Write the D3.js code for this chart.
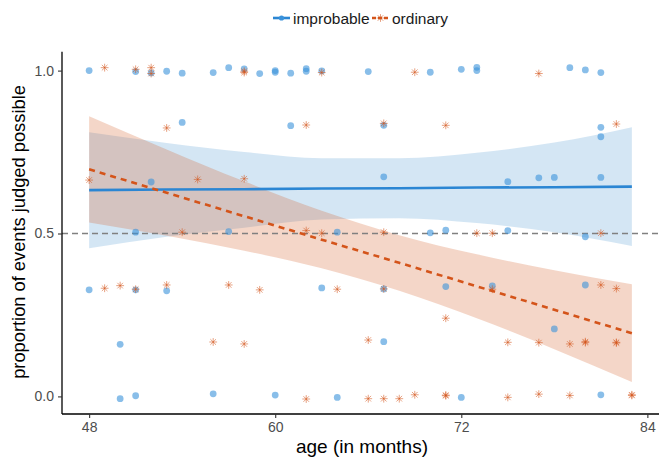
<!DOCTYPE html>
<html>
<head>
<meta charset="utf-8">
<script src="https://cdn.jsdelivr.net/npm/d3@7"></script>
<style>
  body { margin: 0; background: #fff; }
  text { font-family: "Liberation Sans", Arial, sans-serif; }
</style>
</head>
<body>
<div id="container"></div>
<script>
// improbable (blue circles)
const impMonths = [48, 51, 52, 53, 54, 56, 57, 58, 59, 60, 60, 61, 62, 62, 63, 66, 70, 72, 73, 73, 79, 80, 81,
  54, 61, 67, 81, 81,
  52, 67, 75, 77, 78, 81,
  51, 57, 64, 70, 71, 75, 80,
  48, 51, 53, 63, 67, 71, 74, 80,
  50, 67, 78,
  50, 51, 56, 60, 64, 72, 81];
const impValues = [1.0, 0.997, 0.993, 0.998, 0.992, 0.994, 1.009, 1.005, 0.991, 1.0, 0.995, 0.992, 1.006, 0.998, 0.999, 0.997, 0.995, 1.004, 1.01, 1.0, 1.009, 1.002, 0.994,
  0.841, 0.831, 0.832, 0.826, 0.797,
  0.658, 0.674, 0.659, 0.671, 0.672, 0.672,
  0.504, 0.506, 0.504, 0.502, 0.51, 0.509, 0.49,
  0.327, 0.327, 0.324, 0.333, 0.33, 0.337, 0.339, 0.342,
  0.16, 0.168, 0.207,
  -0.007, 0.002, 0.008, 0.004, -0.003, -0.003, 0.005];

// ordinary (orange asterisks)
const ordMonths = [49, 51, 52, 52, 58, 58, 63, 69, 77,
  53, 62, 67, 71, 82,
  48, 55, 58,
  54, 62, 63, 67, 73, 74, 81,
  49, 50, 51, 53, 57, 59, 64, 67, 74, 81, 82,
  71,
  56, 58, 66, 75, 77, 79, 80, 80, 82, 82,
  62, 66, 67, 68, 69, 71, 71, 75, 77, 79, 83, 83];
const ordValues = [1.009, 1.004, 1.009, 0.991, 0.998, 0.994, 0.994, 0.995, 0.991,
  0.824, 0.833, 0.838, 0.832, 0.836,
  0.664, 0.666, 0.668,
  0.504, 0.509, 0.501, 0.504, 0.501, 0.501, 0.501,
  0.332, 0.34, 0.329, 0.342, 0.342, 0.327, 0.329, 0.33, 0.329, 0.342, 0.331,
  0.24,
  0.167, 0.161, 0.173, 0.166, 0.165, 0.161, 0.165, 0.168, 0.166, 0.164,
  -0.008, -0.007, -0.007, -0.007, 0.005, 0.004, 0.002, -0.003, 0.007, 0.003, 0.005, 0.003];

// fitted lines and 95% bands
const fitMonths = [48, 53, 58, 63, 68, 73, 78, 83];
const impFit   = [0.633, 0.635, 0.636, 0.638, 0.639, 0.641, 0.642, 0.644];
const impUpper = [0.811, 0.778, 0.750, 0.731, 0.731, 0.748, 0.779, 0.826];
const impLower = [0.455, 0.490, 0.518, 0.543, 0.547, 0.532, 0.504, 0.462];
const ordFit   = [0.697, 0.625, 0.553, 0.481, 0.410, 0.338, 0.266, 0.194];
const ordUpper = [0.860, 0.758, 0.660, 0.570, 0.495, 0.436, 0.387, 0.344];
const ordLower = [0.534, 0.493, 0.447, 0.393, 0.324, 0.240, 0.145, 0.044];

const xTicks = [48, 60, 72, 84];
const yTicks = [0, 0.5, 1];
const seriesNames = ["improbable", "ordinary"];

const width = 664, height = 459;
const blue = "#2b86d3", orange = "#d4541a";
const blueFill = "#539bd3", orangeFill = "#d35b23";

const svg = d3.select("#container").append("svg")
  .attr("width", width).attr("height", height);

const x = d3.scaleLinear().domain([46.25, 84.75]).range([62, 659]);
const y = d3.scaleLinear().domain([-0.054, 1.058]).range([414, 51.7]);

// bands
function band(lower, upper) {
  return d3.area()
    .x((d, i) => x(fitMonths[i]))
    .y0((d, i) => y(lower[i]))
    .y1((d, i) => y(upper[i]))
    .curve(d3.curveMonotoneX)(fitMonths);
}
svg.append("path").attr("d", band(impLower, impUpper))
  .attr("fill", blueFill).attr("fill-opacity", 0.25);
svg.append("path").attr("d", band(ordLower, ordUpper))
  .attr("fill", orangeFill).attr("fill-opacity", 0.25);

// reference line at 0.5
svg.append("line")
  .attr("x1", 62).attr("x2", 659)
  .attr("y1", y(0.5)).attr("y2", y(0.5))
  .attr("stroke", "#808080").attr("stroke-width", 1.6)
  .attr("stroke-dasharray", "6,4");

// points
const impPts = impMonths.map((m, i) => ({ m: m, v: impValues[i] }));
const ordPts = ordMonths.map((m, i) => ({ m: m, v: ordValues[i] }));

svg.append("g").selectAll("circle")
  .data(impPts)
  .enter().append("circle")
  .attr("cx", d => x(d.m))
  .attr("cy", d => y(d.v))
  .attr("r", 3.4)
  .attr("fill", "#3a92db")
  .attr("fill-opacity", 0.6);

const star = "M-3.9,0H3.9M0,-3.9V3.9M-2.8,-2.8L2.8,2.8M-2.8,2.8L2.8,-2.8";
svg.append("g").selectAll("path")
  .data(ordPts)
  .enter().append("path")
  .attr("transform", d => "translate(" + x(d.m) + "," + y(d.v) + ")")
  .attr("d", star)
  .attr("fill", "none")
  .attr("stroke", orange)
  .attr("stroke-opacity", 0.55)
  .attr("stroke-width", 1);

// fit lines
const fitLine = vals => d3.line()
  .x((d, i) => x(fitMonths[i]))
  .y((d, i) => y(vals[i]))(fitMonths);

svg.append("path").attr("d", fitLine(impFit))
  .attr("fill", "none").attr("stroke", blue).attr("stroke-width", 2.6);
svg.append("path").attr("d", fitLine(ordFit))
  .attr("fill", "none").attr("stroke", orange).attr("stroke-width", 2.6)
  .attr("stroke-dasharray", "6,5");

// axes
const xAxis = svg.append("g")
  .attr("transform", "translate(0,414)")
  .call(d3.axisBottom(x).tickValues(xTicks).tickSize(4).tickPadding(4).tickFormat(d3.format("d")));
const yAxis = svg.append("g")
  .attr("transform", "translate(62,0)")
  .call(d3.axisLeft(y).tickValues(yTicks).tickSize(4).tickPadding(4).tickFormat(d3.format(".1f")));

[xAxis, yAxis].forEach(g => {
  g.select(".domain").attr("stroke", "#000").attr("stroke-width", 1.3);
  g.selectAll(".tick line").attr("stroke", "#333").attr("stroke-width", 1.1);
  g.selectAll(".tick text")
    .attr("fill", "#4d4d4d")
    .style("font-size", "14px")
    .style("font-family", "'Liberation Sans', Arial, sans-serif");
});
// ggplot draws the axis lines without the end stubs
xAxis.select(".domain").attr("d", "M62,0H659");
yAxis.select(".domain").attr("d", "M0,414V51.7");

svg.append("text")
  .attr("x", 362).attr("y", 453)
  .attr("text-anchor", "middle")
  .style("font-size", "19px")
  .attr("fill", "#000")
  .text("age (in months)");

svg.append("text")
  .attr("transform", "translate(25,232) rotate(-90)")
  .attr("text-anchor", "middle")
  .style("font-size", "18.3px")
  .attr("fill", "#000")
  .text("proportion of events judged possible");

// legend
const legend = svg.append("g").attr("transform", "translate(273,18)");
const keyX = [0, 99];
seriesNames.forEach((name, i) => {
  const g = legend.append("g").attr("transform", "translate(" + keyX[i] + ",0)");
  const col = i === 0 ? blue : orange;
  g.append("line").attr("x1", 0).attr("x2", 17).attr("y1", 0).attr("y2", 0)
    .attr("stroke", col).attr("stroke-width", 2.6)
    .attr("stroke-dasharray", i === 0 ? null : "4,2");
  if (i === 0) {
    g.append("circle").attr("cx", 8.5).attr("cy", 0).attr("r", 2.6)
      .attr("fill", "#3a92db");
  } else {
    g.append("path").attr("transform", "translate(8.5,0)").attr("d", star)
      .attr("fill", "none").attr("stroke", orange).attr("stroke-opacity", 0.55);
  }
  g.append("text").attr("x", 20).attr("y", 5.5)
    .style("font-size", "15.5px").attr("fill", "#1a1a1a")
    .text(name);
});
</script>
</body>
</html>
